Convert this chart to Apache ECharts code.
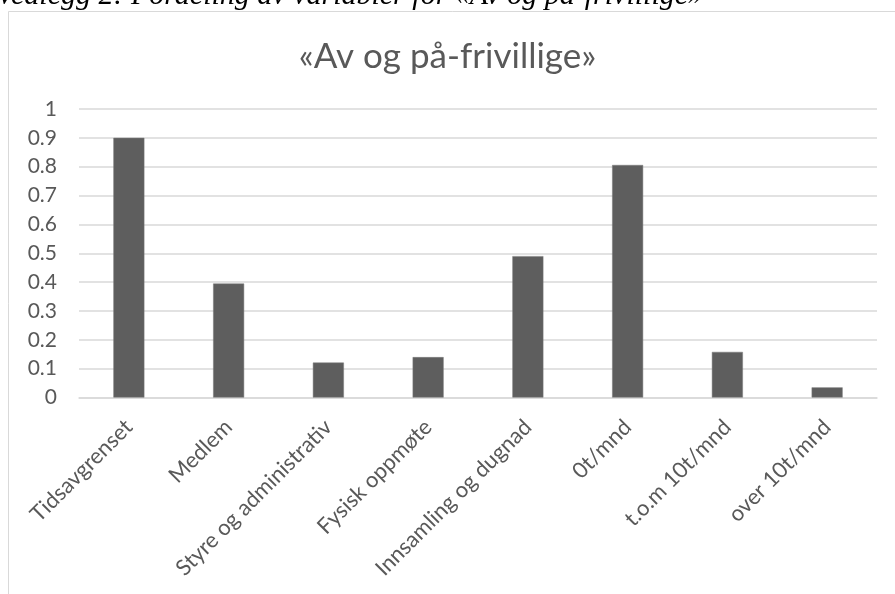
<!DOCTYPE html>
<html>
<head>
<meta charset="utf-8">
<script src="https://cdn.jsdelivr.net/npm/echarts@6/dist/echarts.min.js"></script>
<style>
html,body{margin:0;padding:0;background:#fff;}
#main{width:895px;height:594px;}
</style>
</head>
<body>
<div id="main"></div>
<script>
const caption = 'Vedlegg 2: Fordeling av variabler for «Av og på-frivillige»';
const chartTitle = '«Av og på-frivillige»';
const categories = ['Tidsavgrenset', 'Medlem', 'Styre og administrativ', 'Fysisk oppmøte', 'Innsamling og dugnad', '0t/mnd', 't.o.m 10t/mnd', 'over 10t/mnd'];
const values = [0.9, 0.395, 0.121, 0.14, 0.49, 0.806, 0.158, 0.035];
const yTicks = [0, 0.1, 0.2, 0.3, 0.4, 0.5, 0.6, 0.7, 0.8, 0.9, 1];

const chart = echarts.init(document.getElementById('main'), null, {renderer: 'canvas'});
const textColor = '#595959';
const font = 'Lato';
chart.setOption({
  animation: false,
  backgroundColor: '#fff',
  title: {
    text: chartTitle,
    left: 'center',
    top: 34,
    textStyle: {fontFamily: font, fontSize: 35, fontWeight: 'normal', color: textColor}
  },
  graphic: [
    {type: 'rect', shape: {x: 8.5, y: 11.5, width: 1000, height: 1000}, style: {fill: null, stroke: '#d9d9d9', lineWidth: 1}, z: -1},
    {type: 'text', x: -4, y: -4, style: {text: caption, font: 'italic 30px "Liberation Serif"', fill: '#000', verticalAlign: 'middle'}}
  ],
  grid: {left: 79, right: 18, top: 109, bottom: 196.5, containLabel: false},
  xAxis: {
    type: 'category',
    data: categories,
    axisLine: {lineStyle: {color: '#d9d9d9', width: 1.5}},
    axisTick: {show: false},
    axisLabel: {rotate: 45, interval: 0, margin: 26, fontFamily: font, fontSize: 22, color: textColor}
  },
  yAxis: {
    type: 'value',
    min: 0, max: 1, interval: 0.1,
    axisLine: {show: false},
    axisTick: {show: false},
    splitLine: {lineStyle: {color: '#d9d9d9', width: 1.5}},
    axisLabel: {margin: 22, fontFamily: font, fontSize: 21, color: textColor,
      formatter: v => String(Math.round(v * 10) / 10)}
  },
  series: [{
    type: 'bar',
    data: values,
    barWidth: 31,
    itemStyle: {color: '#5e5e5e', borderColor: '#7a7a7a', borderWidth: 0.5}
  }]
});
</script>
</body>
</html>
